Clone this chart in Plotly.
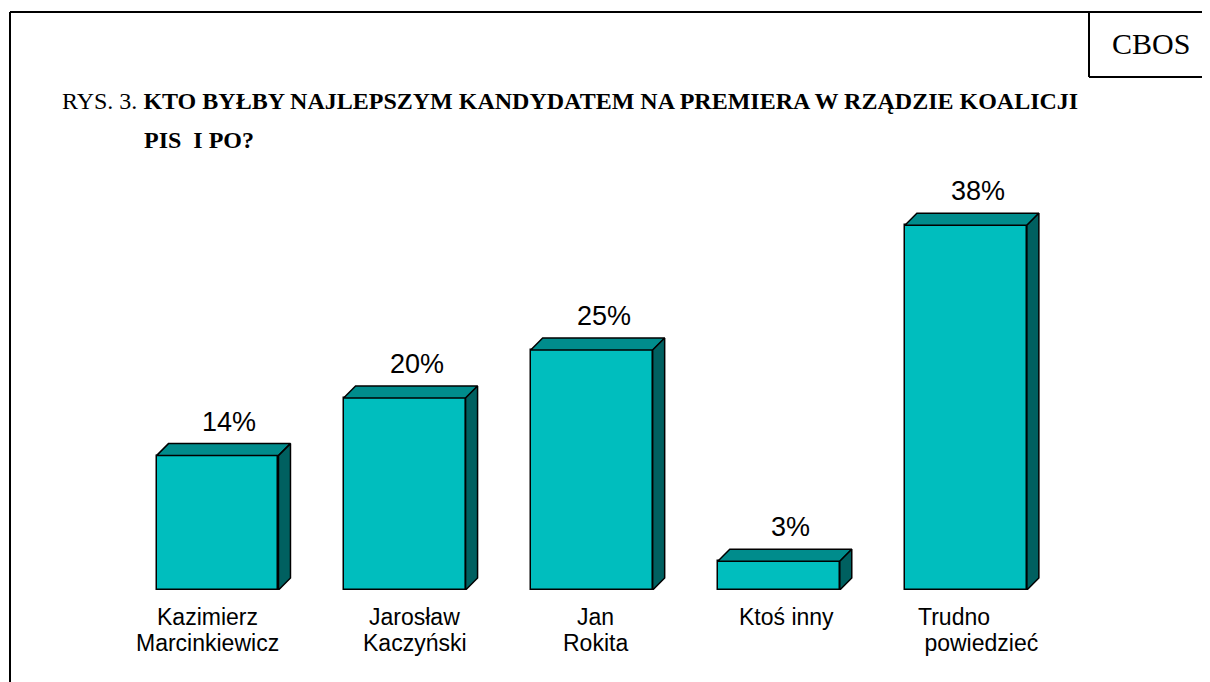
import plotly.graph_objects as go

# ---- data ----
categories = ["Kazimierz<br>Marcinkiewicz", "Jarosław<br>Kaczyński", "Jan<br>Rokita",
              "Ktoś inny", "Trudno<br>\u00a0powiedzieć"]
values = [14, 20, 25, 3, 38]
value_labels = ["14%", "20%", "25%", "3%", "38%"]

# ---- geometry / style ----
OFF = 8                      # default page body margin in the written html
W, H = 1210 - OFF, 682 - OFF
FRONT = "#00BEBE"
TOP = "#008C8C"
SIDE = "#006060"
bar_w = 0.652                # fraction of category step
dx = 0.064                   # 3D depth in x units
dy = 1.25                    # 3D depth in y units
label_xshift = [-10, 10, 4, 8, None]   # per-label horizontal nudge (px); None = left aligned

def px(x):
    return (x - OFF) / W

def py(y):
    return 1 - (y - OFF) / H

plot_l, plot_r = 30, 1180
x_step_px = 187.1
xa = -(217.5 - plot_l) / x_step_px
xb = xa + (plot_r - plot_l) / x_step_px
y_bottom_px, y_top_px = 590, 170
px_per_unit = 9.6
ymax = (y_bottom_px - y_top_px) / px_per_unit

xs = list(range(len(values)))
fig = go.Figure()

# front faces
fig.add_trace(go.Bar(x=xs, y=values, width=bar_w,
                     marker=dict(color=FRONT, line=dict(color="black", width=1.5)),
                     hoverinfo="skip", showlegend=False))

# top and side faces derived from values
for x, v in zip(xs, values):
    x0, x1 = x - bar_w / 2, x + bar_w / 2
    fig.add_trace(go.Scatter(x=[x0, x0 + dx, x1 + dx, x1, x0], y=[v, v + dy, v + dy, v, v],
                             mode="lines", fill="toself", fillcolor=TOP,
                             line=dict(color="black", width=1.5), hoverinfo="skip", showlegend=False))
    fig.add_trace(go.Scatter(x=[x1, x1 + dx, x1 + dx, x1, x1], y=[0, dy, v + dy, v, 0],
                             mode="lines", fill="toself", fillcolor=SIDE,
                             line=dict(color="black", width=1.5), hoverinfo="skip", showlegend=False))

LBL_FONT = dict(family="Liberation Sans, Arial", size=23, color="black")
annotations = []
for x, v, t in zip(xs, values, value_labels):
    annotations.append(dict(x=x + dx / 2, y=v + dy, text=t, showarrow=False, xanchor="center",
                            yanchor="middle", yshift=22, xshift=6,
                            font=dict(family="Liberation Sans, Arial", size=27, color="black")))
for x, c, sh in zip(xs, categories, label_xshift):
    for j, ln in enumerate(c.split("<br>")):
        if sh is None:
            annotations.append(dict(x=x - bar_w / 2, y=0, text=ln, showarrow=False, xanchor="left",
                                    yanchor="middle", yshift=-(27 + 26 * j), xshift=11,
                                    font=LBL_FONT))
        else:
            annotations.append(dict(x=x, y=0, text=ln, showarrow=False, xanchor="center",
                                    yanchor="middle", yshift=-(27 + 26 * j), xshift=sh,
                                    font=LBL_FONT))

# title
SERIF = "Liberation Serif, Times New Roman"
annotations.append(dict(xref="paper", yref="paper", x=px(60), y=py(101), xanchor="left", yanchor="middle",
                        text="RYS. 3. <b>KTO BYŁBY NAJLEPSZYM KANDYDATEM NA PREMIERA W RZĄDZIE KOALICJI</b>",
                        showarrow=False, font=dict(family=SERIF, size=24, color="black")))
annotations.append(dict(xref="paper", yref="paper", x=px(142), y=py(140), xanchor="left", yanchor="middle",
                        text="<b>PIS \u00a0I PO?</b>",
                        showarrow=False, font=dict(family=SERIF, size=24, color="black")))
annotations.append(dict(xref="paper", yref="paper", x=px(1151), y=py(44), xanchor="center", yanchor="middle",
                        text="CBOS", showarrow=False, font=dict(family=SERIF, size=30, color="black")))

def line(x0, y0, x1, y1):
    return dict(type="line", xref="paper", yref="paper", x0=px(x0), y0=py(y0), x1=px(x1), y1=py(y1),
                line=dict(color="black", width=2))

shapes = [line(10, 12, 10, 682), line(10, 12, 1210, 12), line(1089, 12, 1089, 77), line(1089, 77, 1210, 77)]

fig.update_layout(
    width=W, height=H, margin=dict(l=0, r=0, t=0, b=0),
    paper_bgcolor="white", plot_bgcolor="white",
    xaxis=dict(domain=[px(plot_l), px(plot_r)], range=[xa, xb], visible=False, fixedrange=True),
    yaxis=dict(domain=[py(y_bottom_px), py(y_top_px)], range=[0, ymax], visible=False, fixedrange=True),
    annotations=annotations, shapes=shapes, bargap=0,
)
fig.write_html("out.html")
